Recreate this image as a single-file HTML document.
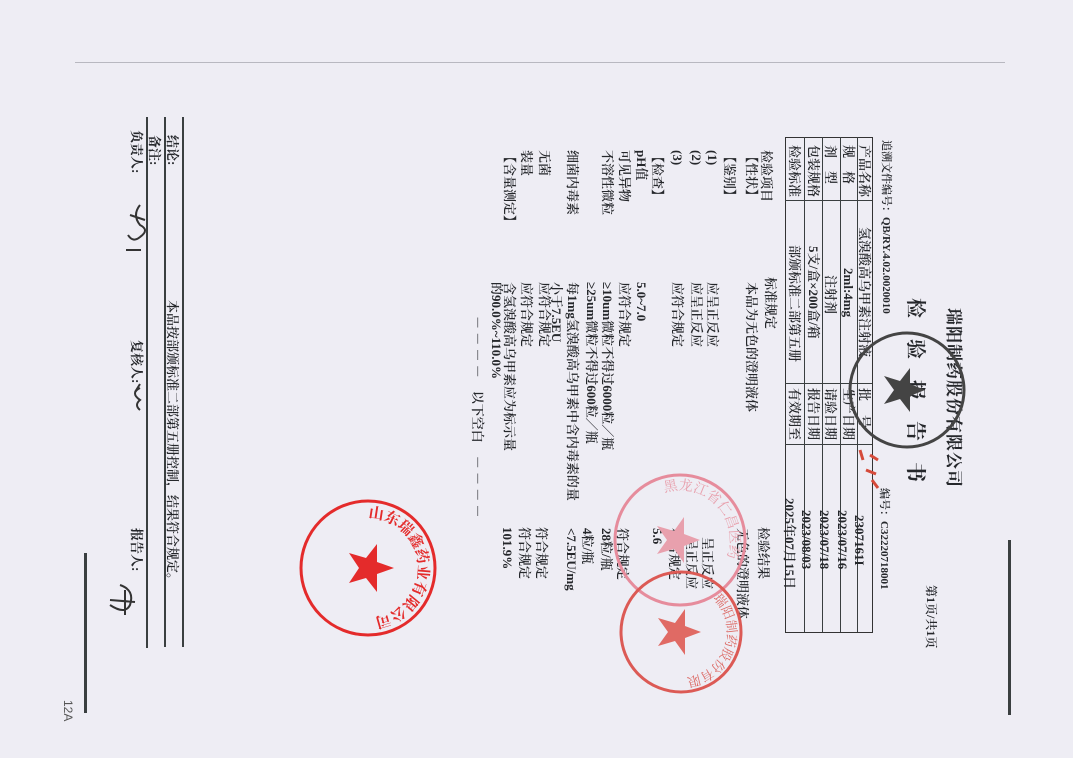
<!DOCTYPE html>
<html><head><meta charset="utf-8"><style>
html,body{margin:0;padding:0}
body{width:1073px;height:758px;background:#eeedf4;position:relative;overflow:hidden;font-family:"Liberation Serif","Noto Serif CJK SC",serif;color:#25272b}
.t{position:absolute;transform-origin:0 0;transform:rotate(90deg);white-space:nowrap;font-size:13px;line-height:13px;font-weight:600}
.b{font-weight:bold}
.l{position:absolute;background:#3a3f40}
</style></head><body>
<div class="l" style="left:75px;top:62px;width:930px;height:1px;background:#b8b8c0"></div>
<div class="l" style="left:1008px;top:540px;width:3px;height:175px"></div>
<div class="l" style="left:84px;top:553px;width:3px;height:160px"></div>

<div class="t b" style="left:962px;top:308px;font-size:17px;line-height:17px;letter-spacing:1px">瑞阳制药股份有限公司</div>
<div class="t b" style="left:925px;top:298px;font-size:20px;line-height:20px;letter-spacing:21px">检验报告书</div>
<div class="t" style="left:891px;top:140px;font-size:11px;line-height:11px">追溯文件编号：QB/RY.4.02.0020010</div>
<div class="t" style="left:889px;top:488px;font-size:11px;line-height:11px">编号：C32220718001</div>
<div class="t" style="left:937px;top:585px;font-size:12px;line-height:12px">第1页/共1页</div>

<div style="position:absolute;left:785px;top:137px;width:86px;height:494px;border:1.5px solid #333"></div>
<div class="l" style="left:804px;top:137px;width:1px;height:495px"></div>
<div class="l" style="left:822px;top:137px;width:1px;height:495px"></div>
<div class="l" style="left:840px;top:137px;width:1px;height:495px"></div>
<div class="l" style="left:857px;top:137px;width:1px;height:495px"></div>
<div class="l" style="left:785px;top:200px;width:87px;height:1px"></div>
<div class="l" style="left:785px;top:383px;width:87px;height:1px"></div>
<div class="l" style="left:785px;top:444px;width:87px;height:1px"></div>

<div class="t" style="left:871px;top:145px">产品名称</div>
<div class="t" style="left:855px;top:145px;letter-spacing:13px">规格</div>
<div class="t" style="left:837px;top:145px;letter-spacing:13px">剂型</div>
<div class="t" style="left:820px;top:145px">包装规格</div>
<div class="t" style="left:801px;top:145px">检验标准</div>

<div class="t" style="left:871px;top:227px">氢溴酸高乌甲素注射液</div>
<div class="t" style="left:855px;top:268px">2ml:4mg</div>
<div class="t" style="left:837px;top:275px">注射剂</div>
<div class="t" style="left:820px;top:246px">5支/盒×200盒/箱</div>
<div class="t" style="left:801px;top:245px">部颁标准二部第五册</div>

<div class="t" style="left:871px;top:388px;letter-spacing:14px">批号</div>
<div class="t" style="left:855px;top:388px">生产日期</div>
<div class="t" style="left:837px;top:388px">请验日期</div>
<div class="t" style="left:820px;top:388px">报告日期</div>
<div class="t" style="left:801px;top:388px">有效期至</div>

<div class="t" style="left:866px;top:515px">2307161I</div>
<div class="t" style="left:849px;top:510px">2023/07/16</div>
<div class="t" style="left:831px;top:510px">2023/07/18</div>
<div class="t" style="left:813px;top:510px">2023/08/03</div>
<div class="t" style="left:796px;top:498px">2025年07月15日</div>

<div class="t" style="left:773px;top:150px">检验项目</div>
<div class="t" style="left:777px;top:277px">标准规定</div>
<div class="t" style="left:770px;top:527px">检验结果</div>

<div class="t" style="left:758px;top:150px">【性状】</div>
<div class="t" style="left:736px;top:150px">【鉴别】</div>
<div class="t" style="left:719px;top:150px">(1)</div>
<div class="t" style="left:703px;top:150px">(2)</div>
<div class="t" style="left:684px;top:150px">(3)</div>
<div class="t" style="left:664px;top:150px">【检查】</div>
<div class="t" style="left:648px;top:150px">pH值</div>
<div class="t" style="left:631px;top:150px">可见异物</div>
<div class="t" style="left:614px;top:150px">不溶性微粒</div>
<div class="t" style="left:579px;top:150px">细菌内毒素</div>
<div class="t" style="left:551px;top:150px">无菌</div>
<div class="t" style="left:533px;top:150px">装量</div>
<div class="t" style="left:516px;top:150px">【含量测定】</div>

<div class="t" style="left:758px;top:282px">本品为无色的澄明液体</div>
<div class="t" style="left:719px;top:282px">应呈正反应</div>
<div class="t" style="left:703px;top:282px">应呈正反应</div>
<div class="t" style="left:684px;top:282px">应符合规定</div>
<div class="t" style="left:648px;top:282px">5.0~7.0</div>
<div class="t" style="left:631px;top:282px">应符合规定</div>
<div class="t" style="left:614px;top:282px">≥10um微粒不得过6000粒／瓶</div>
<div class="t" style="left:598px;top:282px">≥25um微粒不得过600粒／瓶</div>
<div class="t" style="left:579px;top:282px">每1mg氢溴酸高乌甲素中含内毒素的量</div>
<div class="t" style="left:563px;top:282px">小于7.5EU</div>
<div class="t" style="left:551px;top:282px">应符合规定</div>
<div class="t" style="left:533px;top:282px">应符合规定</div>
<div class="t" style="left:516px;top:282px">含氢溴酸高乌甲素应为标示量</div>
<div class="t" style="left:503px;top:282px">的90.0%~110.0%</div>
<div class="t" style="left:484px;top:316px">－ － － －　以下空白　－ － － －</div>

<div class="t" style="left:749px;top:528px">无色的澄明液体</div>
<div class="t" style="left:714px;top:537px">呈正反应</div>
<div class="t" style="left:698px;top:537px">呈正反应</div>
<div class="t" style="left:681px;top:528px">符合规定</div>
<div class="t" style="left:664px;top:528px">5.6</div>
<div class="t" style="left:629px;top:528px">符合规定</div>
<div class="t" style="left:613px;top:528px">28粒/瓶</div>
<div class="t" style="left:594px;top:528px">4粒/瓶</div>
<div class="t" style="left:578px;top:528px">&lt;7.5EU/mg</div>
<div class="t" style="left:548px;top:527px">符合规定</div>
<div class="t" style="left:531px;top:527px">符合规定</div>
<div class="t" style="left:514px;top:527px">101.9%</div>

<div class="l" style="left:182px;top:117px;width:2px;height:530px"></div>
<div class="l" style="left:164px;top:117px;width:2px;height:530px"></div>
<div class="l" style="left:146px;top:117px;width:2px;height:531px"></div>
<div class="t b" style="left:179px;top:135px">结论:</div>
<div class="t" style="left:179px;top:300px">本品按部颁标准二部第五册控制，结果符合规定。</div>
<div class="t b" style="left:161px;top:135px">备注:</div>
<div class="t b" style="left:143px;top:130px">负责人:</div>
<div class="t b" style="left:143px;top:340px">复核人:</div>
<div class="t b" style="left:143px;top:528px">报告人:</div>
<div class="t" style="left:74px;top:700px;font-family:'Liberation Sans',sans-serif;font-size:12px;color:#555;font-weight:normal">12A</div>

<svg style="position:absolute;left:0;top:0" width="1073" height="758">
<defs>
<path id="cr" d="M368 618 A50 50 0 1 1 368.1 618"/>
<path id="cp" d="M680 590 A50 50 0 1 1 680.1 590"/>
<path id="cq" d="M681 678 A46 46 0 1 1 681.1 678"/>
</defs>
<path d="M140 205 q-8 10 0 20 q10 5 0 12 M130 215 l15 5 M128 235 q5 8 12 2 M126 250 l15 0" stroke="#333" stroke-width="2" fill="none"/>
<path d="M140 388 q-10 5 0 12 q-6 5 0 10 M135 392 l5 -8" stroke="#333" stroke-width="2" fill="none"/>
<path d="M120 585 q15 5 10 20 q-5 10 -20 0 M110 600 l25 2 M125 590 l0 25" stroke="#333" stroke-width="2" fill="none"/>
<g fill="none">
<circle cx="368" cy="568" r="67" stroke="#e42b2b" stroke-width="3"/>
<circle cx="680" cy="540" r="65" stroke="#e68c9c" stroke-width="3"/>
<circle cx="681" cy="632" r="60" stroke="#dc5a55" stroke-width="3"/>
<circle cx="907" cy="390" r="57" stroke="#444" stroke-width="3"/>
</g>
<text font-family="Noto Serif CJK SC, serif" font-size="15" font-weight="bold" fill="#e42b2b"><textPath href="#cr" startOffset="50%">山东瑞鑫药业有限公司</textPath></text>
<text font-family="Noto Serif CJK SC, serif" font-size="14" fill="#e8a0ad"><textPath href="#cp" startOffset="45%">黑龙江省仁昌医药</textPath></text>
<text font-family="Noto Serif CJK SC, serif" font-size="13" fill="#dc6a65"><textPath href="#cq" startOffset="62%">瑞阳制药股份有限公司</textPath></text>
<polygon points="372,546 378,563 396,563 382,574 387,591 372,581 357,591 362,574 348,563 366,563" fill="#e42b2b" transform="rotate(90 372 568)"/>
<polygon points="680,520 686,536 703,536 689,546 694,563 680,553 666,563 671,546 657,536 674,536" fill="#e8a0ad" transform="rotate(90 680 540)"/>
<polygon points="681,612 687,628 704,628 690,638 695,655 681,645 667,655 672,638 658,628 675,628" fill="#e06a64" transform="rotate(90 681 632)"/>
<polygon points="907,372 913,387 929,387 916,397 921,413 907,403 893,413 898,397 885,387 901,387" fill="#444" transform="rotate(90 907 390)"/>
<path d="M870 455 l8 5 M866 470 l10 4 M872 480 l6 8 M860 450 l3 10" stroke="#d54a3a" stroke-width="3"/>
</svg>
</body></html>
